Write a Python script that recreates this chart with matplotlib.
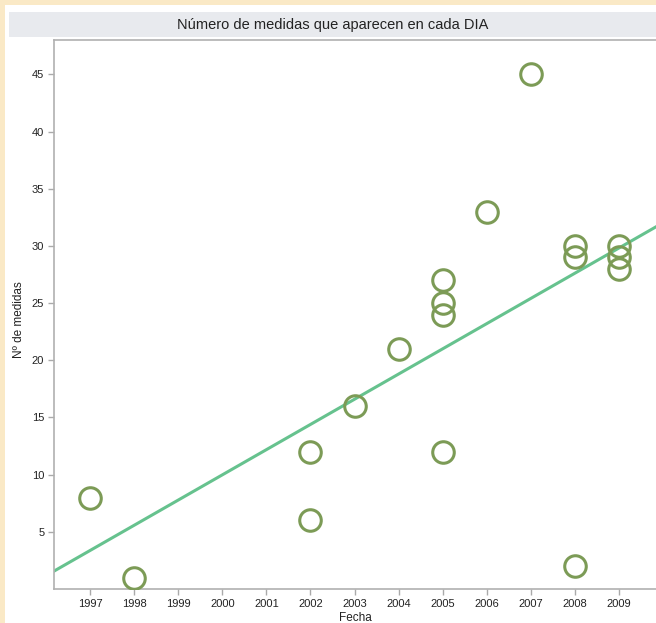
import numpy as np
import matplotlib
matplotlib.use("Agg")
import matplotlib.pyplot as plt
from matplotlib.patches import Rectangle

plt.rcParams['font.family'] = ['Liberation Sans', 'DejaVu Sans']

# Data
years = [1997, 1998, 2002, 2002, 2003, 2004, 2005, 2005, 2005, 2005,
         2006, 2007, 2008, 2008, 2008, 2009, 2009, 2009]
medidas = [8, 1, 12, 6, 16, 21, 27, 25, 24, 12,
           33, 45, 30, 29, 2, 30, 29, 28]
xticks = list(range(1997, 2010))
yticks = [5, 10, 15, 20, 25, 30, 35, 40, 45]
title = "Número de medidas que aparecen en cada DIA"
xlabel = "Fecha"
ylabel = "Nº de medidas"

W, H = 656, 623
fig = plt.figure(figsize=(W / 100, H / 100), dpi=100)
fig.patch.set_facecolor('#FAE9C6')

# White panel
fig.add_artist(Rectangle((5 / W, 0), 1 - 5 / W, 1 - 5 / H, transform=fig.transFigure,
                         facecolor='white', edgecolor='none', zorder=0))
# Title bar
fig.add_artist(Rectangle((9 / W, 1 - 37 / H), 1 - 9 / W, 25 / H, transform=fig.transFigure,
                         facecolor='#E8EAEE', edgecolor='none', zorder=1))
fig.text(333 / W, 1 - 24.5 / H, title, ha='center', va='center', fontsize=10.5, color='#222222')

ax = fig.add_axes([54 / W, 34 / H, 1 - 54 / W, (589 - 40) / H])
ax.set_facecolor('white')

x = np.array(years, dtype=float)
y = np.array(medidas, dtype=float)
ax.plot(x, y, linestyle='none', marker='o', markersize=15.5, markerfacecolor='none',
        markeredgecolor='#7C9B56', markeredgewidth=2.2, zorder=3)

xlim = (1996.18, 2009.84)
slope, intercept = np.polyfit(x, y, 1)
lx = np.array(xlim)
ax.plot(lx, slope * lx + intercept, color='#66C28E', linewidth=2.2, zorder=2)

ax.set_xlim(*xlim)
ax.set_ylim(0, 48)
ax.set_xticks(xticks)
ax.set_xticklabels([str(t) for t in xticks])
ax.set_yticks(yticks)
ax.set_yticklabels([str(t) for t in yticks])
ax.tick_params(axis='both', labelsize=8, color='#AAAAAA', length=4, width=1, labelcolor='#222222', pad=3)

for side in ['left', 'bottom', 'top']:
    ax.spines[side].set_color('#B0B0B0')
    ax.spines[side].set_linewidth(1.2)
ax.spines['right'].set_visible(False)

ax.set_xlabel(xlabel, fontsize=8.5, color='#222222')
ax.xaxis.set_label_coords((355 - 54) / (W - 54), -0.042)
ax.set_ylabel(ylabel, fontsize=8.5, color='#222222')
ax.yaxis.set_label_coords(-(54 - 25) / (W - 54), (589 - 320) / (589 - 40))

fig.savefig('out.png', dpi=100, facecolor=fig.get_facecolor())
